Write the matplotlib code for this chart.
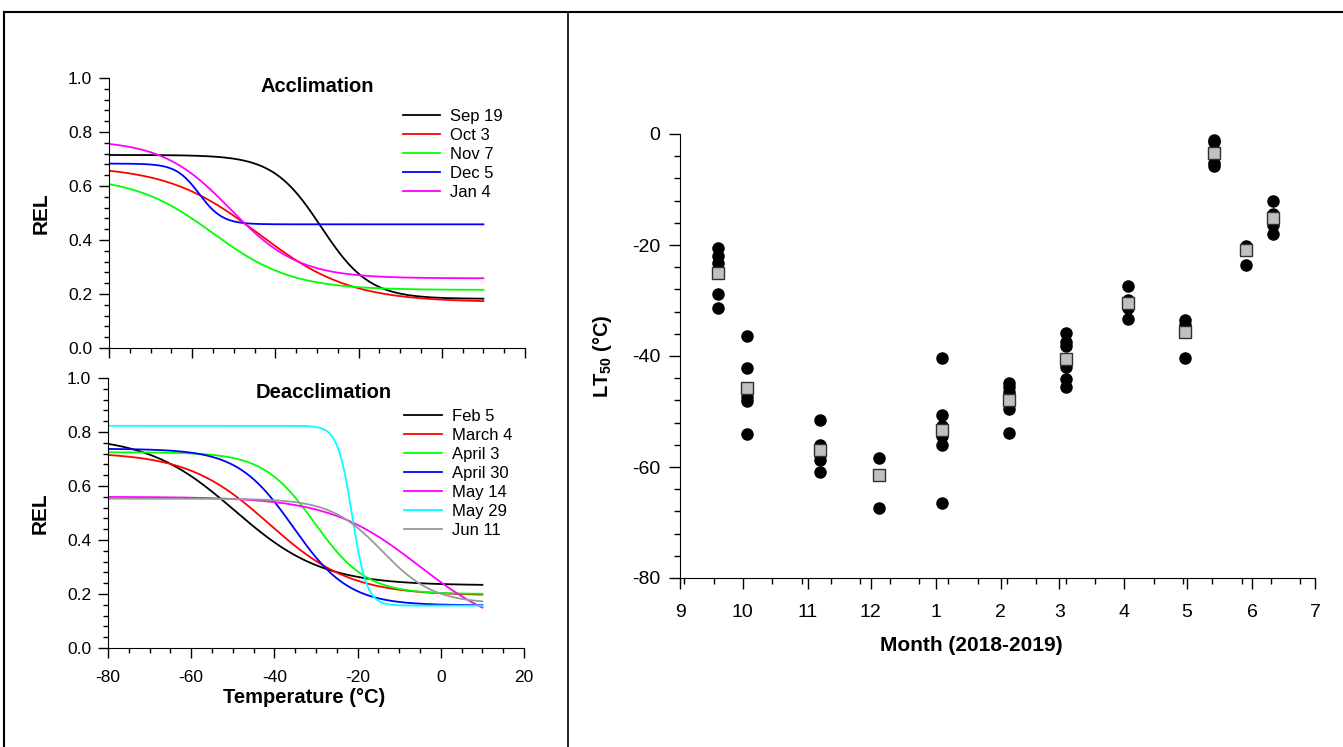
import numpy as np
import pandas as pd
import matplotlib
matplotlib.use('Agg')
import matplotlib.pyplot as plt
import matplotlib.dates as mdates
from matplotlib.lines import Line2D
from matplotlib.ticker import MultipleLocator, FixedLocator, FuncFormatter

plt.rcParams['font.family'] = ['Liberation Sans', 'DejaVu Sans']
plt.rcParams['mathtext.fontset'] = 'custom'
plt.rcParams['mathtext.rm'] = 'Liberation Sans'
plt.rcParams['mathtext.bf'] = 'Liberation Sans:bold'
plt.rcParams['axes.unicode_minus'] = False

# courbes REL (ajustement sigmoide : plateau haut, plateau bas, T50, pente)
acc_labels = ['Sep 19', 'Oct 3', 'Nov 7', 'Dec 5', 'Jan 4']
acc_colors = ['#000000', '#ff0000', '#00ff00', '#0000ff', '#ff00ff']
acc_top = [0.715, 0.675, 0.635, 0.683, 0.77]
acc_bottom = [0.182, 0.17, 0.215, 0.458, 0.258]
acc_t50 = [-29.0, -44.0, -55.0, -58.3, -50.8]
acc_slope = [5.8, 11.0, 9.5, 2.8, 8.2]

deacc_labels = ['Feb 5', 'March 4', 'April 3', 'April 30', 'May 14', 'May 29', 'Jun 11']
deacc_colors = ['#000000', '#ff0000', '#00ff00', '#0000ff', '#ff00ff', '#00ffff', '#999999']
deacc_top = [0.785, 0.725, 0.725, 0.738, 0.56, 0.823, 0.553]
deacc_bottom = [0.232, 0.195, 0.20, 0.158, 0.05, 0.157, 0.165]
deacc_t50 = [-49.5, -41.3, -30.3, -35.5, -5.3, -21.3, -14.1]
deacc_slope = [10.5, 9.8, 6.2, 6.7, 10.8, 1.75, 6.2]

# LT50 par date d'échantillonnage
sample_dates = ['2018-09-19', '2018-10-03', '2018-11-07', '2018-12-05', '2019-01-04',
                '2019-02-05', '2019-03-04', '2019-04-03', '2019-04-30', '2019-05-14',
                '2019-05-29', '2019-06-11']
lt50_values = [
    [-20.6, -22.0, -23.2, -28.9, -31.3],
    [-36.4, -42.2, -47.4, -48.1, -54.0],
    [-51.6, -56.0, -56.6, -57.8, -58.7, -60.9],
    [-58.4, -67.4],
    [-40.4, -50.7, -52.7, -54.5, -56.1, -66.4],
    [-44.8, -45.5, -46.4, -49.5, -53.9],
    [-35.9, -37.4, -38.2, -42.0, -44.2, -45.6],
    [-27.4, -29.9, -31.4, -33.3],
    [-33.6, -34.4, -40.4],
    [-1.0, -1.5, -5.3, -5.8],
    [-20.2, -23.6],
    [-12.0, -14.4, -16.4, -18.0],
]
lt50_means = [-25.1, -45.8, -56.9, -61.4, -53.4, -48.0, -40.6, -30.5, -35.6, -3.5, -20.9, -15.1]


def rel_curve(t, top, bottom, t50, slope):
    return bottom + (top - bottom) / (1 + np.exp((t - t50) / slope))


temps = np.linspace(-80, 10, 500)

W, H = 1343, 747
fig = plt.figure(figsize=(W / 100, H / 100), dpi=100)


def px_axes(left, top, right, bottom):
    return fig.add_axes([left / W, 1 - bottom / H, (right - left) / W, (bottom - top) / H])


def style_rel_axes(ax, show_xlabels):
    ax.set_xlim(-80, 20)
    ax.set_ylim(0, 1)
    for s in ['top', 'right']:
        ax.spines[s].set_visible(False)
    ax.xaxis.set_major_locator(MultipleLocator(20))
    ax.xaxis.set_minor_locator(MultipleLocator(5))
    ax.yaxis.set_major_locator(MultipleLocator(0.2))
    ax.yaxis.set_minor_locator(MultipleLocator(0.04))
    ax.yaxis.set_major_formatter(FuncFormatter(lambda v, p: '%.1f' % v))
    ax.tick_params(which='major', direction='out', length=7, width=1, labelsize=12.5)
    ax.tick_params(which='minor', direction='out', length=3.5, width=1)
    ax.tick_params(axis='y', pad=5)
    ax.tick_params(axis='x', pad=9)
    if not show_xlabels:
        ax.tick_params(axis='x', labelbottom=False)
    ax.set_ylabel('REL', fontsize=15, fontweight='bold', va='center')
    ax.yaxis.set_label_coords(-0.163, 0.5)


# --- Acclimation
ax1 = px_axes(109, 78, 525, 348)
for i in range(len(acc_labels)):
    ax1.plot(temps, rel_curve(temps, acc_top[i], acc_bottom[i], acc_t50[i], acc_slope[i]),
             color=acc_colors[i], lw=1.3, label=acc_labels[i])
style_rel_axes(ax1, False)
ax1.text(0.50, 0.970, 'Acclimation', transform=ax1.transAxes, ha='center', va='center',
         fontsize=14.5, fontweight='bold')
ax1.legend(loc='upper left', bbox_to_anchor=(0.706, 0.886), frameon=False, fontsize=12,
           handlelength=2.25, handletextpad=0.6, labelspacing=0.24, borderpad=0, borderaxespad=0)

# --- Deacclimation
ax2 = px_axes(108, 378, 524, 648)
for i in range(len(deacc_labels)):
    ax2.plot(temps, rel_curve(temps, deacc_top[i], deacc_bottom[i], deacc_t50[i], deacc_slope[i]),
             color=deacc_colors[i], lw=1.3, label=deacc_labels[i])
style_rel_axes(ax2, True)
ax2.text(0.5175, 0.947, 'Deacclimation', transform=ax2.transAxes, ha='center', va='center',
         fontsize=14.5, fontweight='bold')
ax2.legend(loc='upper left', bbox_to_anchor=(0.712, 0.886), frameon=False, fontsize=12,
           handlelength=2.25, handletextpad=0.6, labelspacing=0.24, borderpad=0, borderaxespad=0)
ax2.set_xlabel('Temperature (°C)', fontsize=14.5, fontweight='bold', va='center')
ax2.xaxis.set_label_coords(0.471, -0.185)

# --- LT50
ax3 = px_axes(680, 134, 1315, 578)
dates = pd.to_datetime(sample_dates)
for d, vals in zip(dates, lt50_values):
    ax3.plot([d] * len(vals), vals, 'o', color='black', ms=8, zorder=3)
ax3.plot(dates, lt50_means, 's', mfc='#c0c0c0', mec='#303030', mew=1, ms=8, zorder=4)
ax3.set_xlim(pd.Timestamp('2018-09-01'), pd.Timestamp('2019-07-01'))
ax3.set_ylim(-80, 0)
for s in ['top', 'right']:
    ax3.spines[s].set_visible(False)
ax3.xaxis.set_major_locator(mdates.MonthLocator())
ax3.xaxis.set_major_formatter(FuncFormatter(lambda v, p: str(mdates.num2date(v).month)))
ax3.xaxis.set_minor_locator(FixedLocator(mdates.date2num(
    pd.date_range('2018-09-03', '2019-07-01', freq='14D'))))
ax3.yaxis.set_major_locator(MultipleLocator(20))
ax3.yaxis.set_minor_locator(MultipleLocator(4))
ax3.tick_params(which='major', direction='out', length=8, width=1, labelsize=14)
ax3.tick_params(which='minor', direction='out', length=4, width=1)
ax3.tick_params(axis='y', pad=6)
ax3.tick_params(axis='x', pad=11)
ax3.set_ylabel(r'LT$_{\mathbf{50}}$ (°C)', fontsize=14.5, fontweight='bold', va='center')
ax3.yaxis.set_label_coords(-0.122, 0.5)
ax3.set_xlabel('Month (2018-2019)', fontsize=15, fontweight='bold', va='center')
ax3.xaxis.set_label_coords(0.458, -0.153)

# cadre du tableau
def px_line(x0, y0, x1, y1, lw):
    fig.add_artist(Line2D([x0 / W, x1 / W], [1 - y0 / H, 1 - y1 / H], color='black',
                          lw=lw, transform=fig.transFigure))

px_line(4, 12, W, 12, 1.5)
px_line(4, 12, 4, H, 1.5)
px_line(568, 12, 568, H, 1.2)

fig.savefig('out.png', dpi=100)
